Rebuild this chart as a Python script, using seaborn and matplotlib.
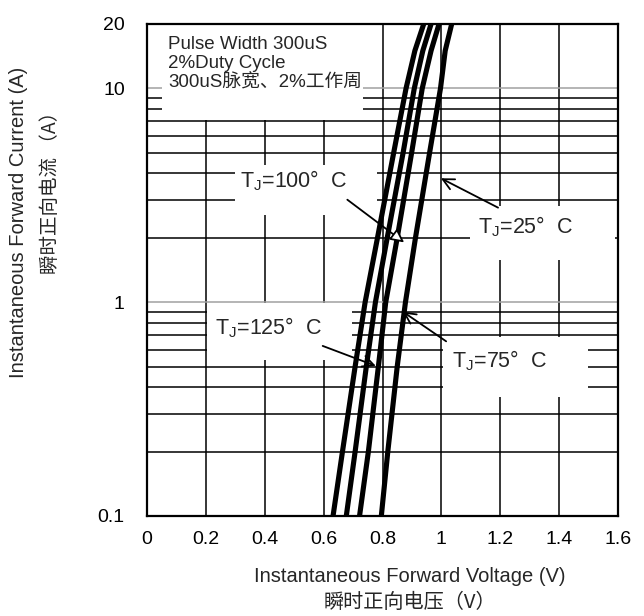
import seaborn as sns
import matplotlib.pyplot as plt
import matplotlib.ticker as mticker
from matplotlib.patches import Rectangle
import pandas as pd

# forward current (A) and voltage (V)
current = [0.1, 0.2, 0.5, 1, 2, 5, 10, 15, 20]
v_125 = [0.632, 0.664, 0.707, 0.741, 0.783, 0.838, 0.880, 0.910, 0.940]
v_100 = [0.677, 0.707, 0.745, 0.776, 0.816, 0.870, 0.908, 0.937, 0.965]
v_75 = [0.722, 0.752, 0.786, 0.811, 0.850, 0.899, 0.935, 0.965, 0.992]
v_25 = [0.796, 0.818, 0.850, 0.878, 0.912, 0.960, 0.997, 1.013, 1.035]

x_ticks = [0, 0.2, 0.4, 0.6, 0.8, 1.0, 1.2, 1.4, 1.6]
x_tick_labels = ['0', '0.2', '0.4', '0.6', '0.8', '1', '1.2', '1.4', '1.6']
y_ticks = [0.1, 1, 10, 20]
y_tick_labels = ['0.1', '1', '10', '20']
y_minor = [0.2, 0.3, 0.4, 0.5, 0.6, 0.7, 0.8, 0.9, 2, 3, 4, 5, 6, 7, 8, 9]

# temperature labels: text, arrow tail (V, A), arrow head (V, A)
labels = ['100', '25', '75', '125']
arrow_tail = [(0.673, 3.07), (1.201, 2.73), (1.024, 0.645), (0.588, 0.631)]
arrow_head = [(0.881, 1.87), (0.990, 3.85), (0.861, 0.919), (0.786, 0.498)]

df = pd.concat([
    pd.DataFrame({'V': v, 'I': current, 'T': t})
    for v, t in [(v_125, '125'), (v_100, '100'), (v_75, '75'), (v_25, '25')]
])

sns.set_theme(style='white')
plt.rcParams['font.family'] = ['Liberation Sans', 'Noto Sans CJK SC', 'DejaVu Sans']
plt.rcParams['mathtext.default'] = 'regular'

W, H = 644, 616
fig = plt.figure(figsize=(W / 100, H / 100), dpi=100)
L, R, T, B = 147, 618, 24, 516
ax = fig.add_axes([L / W, 1 - B / H, (R - L) / W, (B - T) / H])


def ax_xy(px, py):
    return (px - L) / (R - L), (B - py) / (B - T)


ax.set_yscale('log')
ax.set_xlim(0, 1.6)
ax.set_ylim(0.1, 20)

# grid
for x in x_ticks[1:-1]:
    ax.axvline(x, color='black', lw=1.1, zorder=1)
for y in y_minor:
    ax.axhline(y, color='black', lw=1.1, zorder=1)
for y in [1, 10]:
    ax.axhline(y, color='#a0a0a0', lw=1.1, zorder=1)

# white label boxes over the grid
boxes = [(162, 25, 363, 120), (235, 165, 377, 215), (470, 206, 615, 260),
         (443, 337, 588, 397), (207, 303, 352, 360)]
for x0, y0, x1, y1 in boxes:
    bx, by = ax_xy(x0, y1)
    bw = (x1 - x0) / (R - L)
    bh = (y1 - y0) / (B - T)
    ax.add_patch(Rectangle((bx, by), bw, bh, transform=ax.transAxes,
                           fc='white', ec='none', zorder=2))

sns.lineplot(data=df, x='V', y='I', hue='T', units='T', estimator=None,
             palette=['black'] * 4, sort=False, legend=False,
             linewidth=3.7, ax=ax, zorder=3)

# texts
tx, ty = ax_xy(168, 36)
ax.text(tx, ty, 'Pulse Width 300uS\n2%Duty Cycle\n300uS脉宽、2%工作周',
        transform=ax.transAxes, fontsize=13.5, va='top', ha='left',
        linespacing=1.15, zorder=4)

text_pos = [(240, 181), (478, 227), (452, 361), (215, 328)]
for lab, (px, py) in zip(labels, text_pos):
    tx, ty = ax_xy(px, py)
    ax.text(tx, ty, r'T$_{J}$=' + lab + '°  C', transform=ax.transAxes,
            fontsize=15.5, va='center', ha='left', zorder=4)

for i, (tail, head) in enumerate(zip(arrow_tail, arrow_head)):
    if i == 0:
        props = dict(arrowstyle='-|>', fc='white', ec='black', lw=1.3,
                     mutation_scale=20)
    else:
        props = dict(arrowstyle='->', color='black', lw=1.3, mutation_scale=20)
    ax.annotate('', xy=head, xytext=tail, arrowprops=props, zorder=5)

ax.set_xticks(x_ticks)
ax.set_xticklabels(x_tick_labels)
ax.yaxis.set_major_locator(mticker.FixedLocator(y_ticks))
ax.yaxis.set_major_formatter(mticker.FixedFormatter(y_tick_labels))
ax.yaxis.set_minor_locator(mticker.NullLocator())
ax.tick_params(axis='both', length=0, labelsize=14, colors='black')
ax.tick_params(axis='x', pad=11)
ax.tick_params(axis='y', pad=16)
ax.set_xlabel('')
ax.set_ylabel('')
for s in ax.spines.values():
    s.set_color('black')
    s.set_linewidth(1.6)
    s.set_zorder(6)

fig.text(410 / W, 1 - 577 / H, 'Instantaneous Forward Voltage (V)',
         fontsize=14.5, ha='center', va='center')
fig.text(410 / W, 1 - 603 / H, '瞬时正向电压（V）',
         fontsize=14.5, ha='center', va='center',
         family=['Noto Sans CJK SC', 'DejaVu Sans'])
fig.text(19 / W, 1 - 222 / H, 'Instantaneous Forward Current (A)',
         fontsize=14.5, ha='center', va='center', rotation=90)
fig.text(51 / W, 1 - 188 / H, '瞬时正向电流 （A）',
         fontsize=14, ha='center', va='center', rotation=90,
         family=['Noto Sans CJK SC', 'DejaVu Sans'])

fig.savefig('out.png', dpi=100)
